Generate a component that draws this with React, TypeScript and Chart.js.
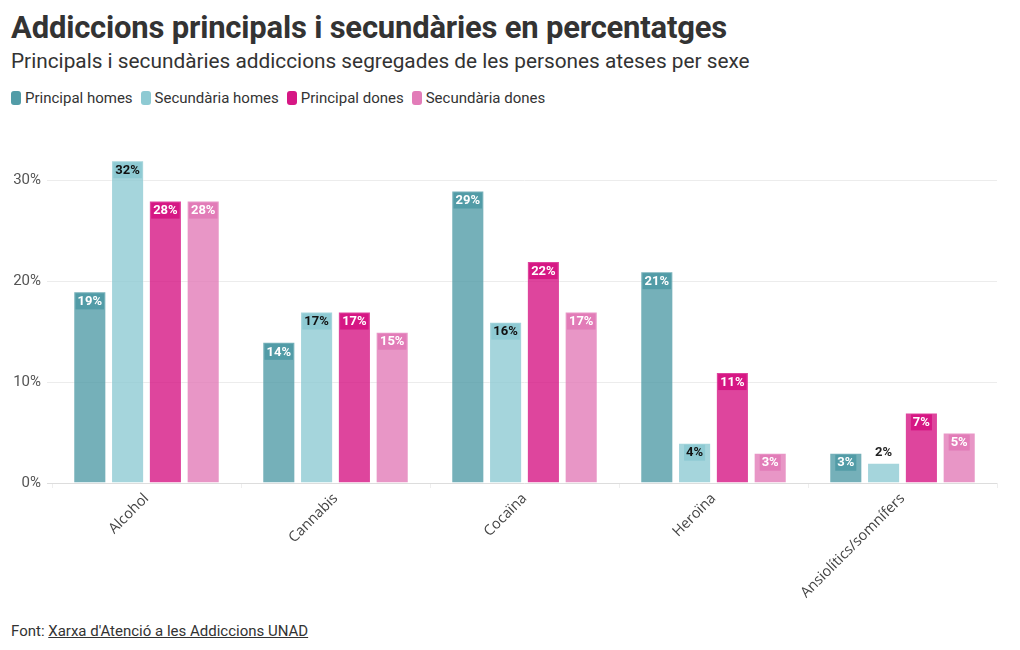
import React, { useEffect, useRef } from "react";
import { Chart, registerables } from "chart.js";
Chart.register(...registerables);

const categories = ["Alcohol", "Cannabis", "Cocaïna", "Heroïna", "Ansiolítics/somnífers"];
const principalHomes = [19, 14, 29, 21, 3];
const secundariaHomes = [32, 17, 16, 4, 2];
const principalDones = [28, 17, 22, 11, 7];
const secundariaDones = [28, 15, 17, 3, 5];
const seriesNames = ["Principal homes", "Secundària homes", "Principal dones", "Secundària dones"];
const yTickValues = [0, 10, 20, 30];

const solidColors = ["#529ca7", "#8ecad3", "#d61784", "#e27cb8"];
const barColors = ["rgba(82,156,167,0.8)", "rgba(142,202,211,0.8)", "rgba(214,23,132,0.8)", "rgba(226,124,184,0.8)"];
const labelTextColors = ["#ffffff", "#111111", "#ffffff", "#ffffff"];

const FONT = "Roboto, 'Noto Sans', sans-serif";
const TICK_FONT = "'Open Sans', 'Noto Sans', sans-serif";

const barLabelPlugin = {
  id: "barLabels",
  afterDatasetsDraw(chart: any) {
    const ctx = chart.ctx;
    ctx.save();
    ctx.font = `bold 13px ${FONT}`;
    ctx.textAlign = "center";
    ctx.textBaseline = "middle";
    chart.data.datasets.forEach((ds: any, di: number) => {
      const meta = chart.getDatasetMeta(di);
      meta.data.forEach((bar: any, i: number) => {
        const v = ds.data[i];
        const text = `${v}%`;
        const h = bar.base - bar.y;
        const w = ctx.measureText(text).width;
        if (h >= 24) {
          const cy = bar.y + 10;
          ctx.fillStyle = solidColors[di];
          ctx.fillRect(bar.x - w / 2 - 2, cy - 8, w + 4, 16);
          ctx.fillStyle = labelTextColors[di];
          ctx.fillText(text, bar.x, cy + 0.5);
        } else {
          ctx.fillStyle = "#222222";
          ctx.fillText(text, bar.x, bar.y - 10);
        }
      });
    });
    ctx.restore();
  },
};

function ChartBox() {
  const ref = useRef<HTMLCanvasElement | null>(null);
  useEffect(() => {
    if (!ref.current) return;
    const seriesData = [principalHomes, secundariaHomes, principalDones, secundariaDones];
    const chart = new Chart(ref.current, {
      type: "bar",
      data: {
        labels: categories,
        datasets: seriesData.map((d, i) => ({
          label: seriesNames[i],
          data: d,
          backgroundColor: barColors[i],
          borderColor: "rgba(255,255,255,0.3)",
          borderWidth: 1,
          categoryPercentage: 0.8,
          barPercentage: 0.875,
        })),
      },
      options: {
        animation: false,
        responsive: false,
        maintainAspectRatio: false,
        layout: { padding: { top: 15, right: 15, left: 0, bottom: 0 } },
        plugins: {
          legend: { display: false },
          tooltip: { enabled: false },
          title: { display: false },
        },
        scales: {
          x: {
            grid: {
              display: true,
              drawOnChartArea: false,
              drawTicks: true,
              tickLength: 5,
              color: "#eeeeee",
            },
            border: { display: false },
            ticks: {
              minRotation: 45,
              maxRotation: 45,
              autoSkip: false,
              color: "#444444",
              font: { family: TICK_FONT, size: 14.5 },
              padding: 2,
            },
            afterFit(scale: any) {
              scale.height = 132;
            },
          },
          y: {
            min: 0,
            max: 35,
            grid: {
              color: (c: any) => (c.tick && c.tick.value === 0 ? "#dddddd" : "#ececec"),
              tickLength: 5,
              drawTicks: true,
            },
            border: { display: false },
            ticks: {
              stepSize: 10,
              color: "#555555",
              padding: 6,
              font: { family: FONT, size: 15 },
              callback: (v: any) => `${v}%`,
            },
            afterBuildTicks(scale: any) {
              scale.ticks = yTickValues.map((v) => ({ value: v }));
            },
            afterFit(scale: any) {
              scale.width = 44;
            },
          },
        },
      },
      plugins: [barLabelPlugin],
    });
    return () => chart.destroy();
  }, []);
  return <canvas ref={ref} width={1004} height={500} style={{ display: "block", width: 1004, height: 500 }} />;
}

export default function App() {
  return (
    <div style={{ position: "relative", width: 1004, height: 634, fontFamily: FONT, color: "#333" }}>
      <div style={{ position: "absolute", left: 3, top: 1, fontSize: 31, fontWeight: 700, color: "#333333", whiteSpace: "nowrap", letterSpacing: -0.2 }}>
        Addiccions principals i secundàries en percentatges
      </div>
      <div style={{ position: "absolute", left: 3, top: 41, fontSize: 20.8, color: "#333333", whiteSpace: "nowrap" }}>
        Principals i secundàries addiccions segregades de les persones ateses per sexe
      </div>
      <div style={{ position: "absolute", left: 3, top: 81, display: "flex", alignItems: "center", fontSize: 15, color: "#333333", whiteSpace: "nowrap" }}>
        {seriesNames.map((n, i) => (
          <span key={n} style={{ display: "inline-flex", alignItems: "center", marginRight: 8 }}>
            <span style={{ display: "inline-block", width: 10, height: 14, borderRadius: 3, background: solidColors[i], marginRight: 4 }} />
            {n}
          </span>
        ))}
      </div>
      <div style={{ position: "absolute", left: 0, top: 107 }}>
        <ChartBox />
      </div>
      <div style={{ position: "absolute", left: 3, top: 614, fontSize: 15, color: "#333333", whiteSpace: "nowrap" }}>
        Font: <span style={{ textDecoration: "underline" }}>Xarxa d'Atenció a les Addiccions UNAD</span>
      </div>
    </div>
  );
}
